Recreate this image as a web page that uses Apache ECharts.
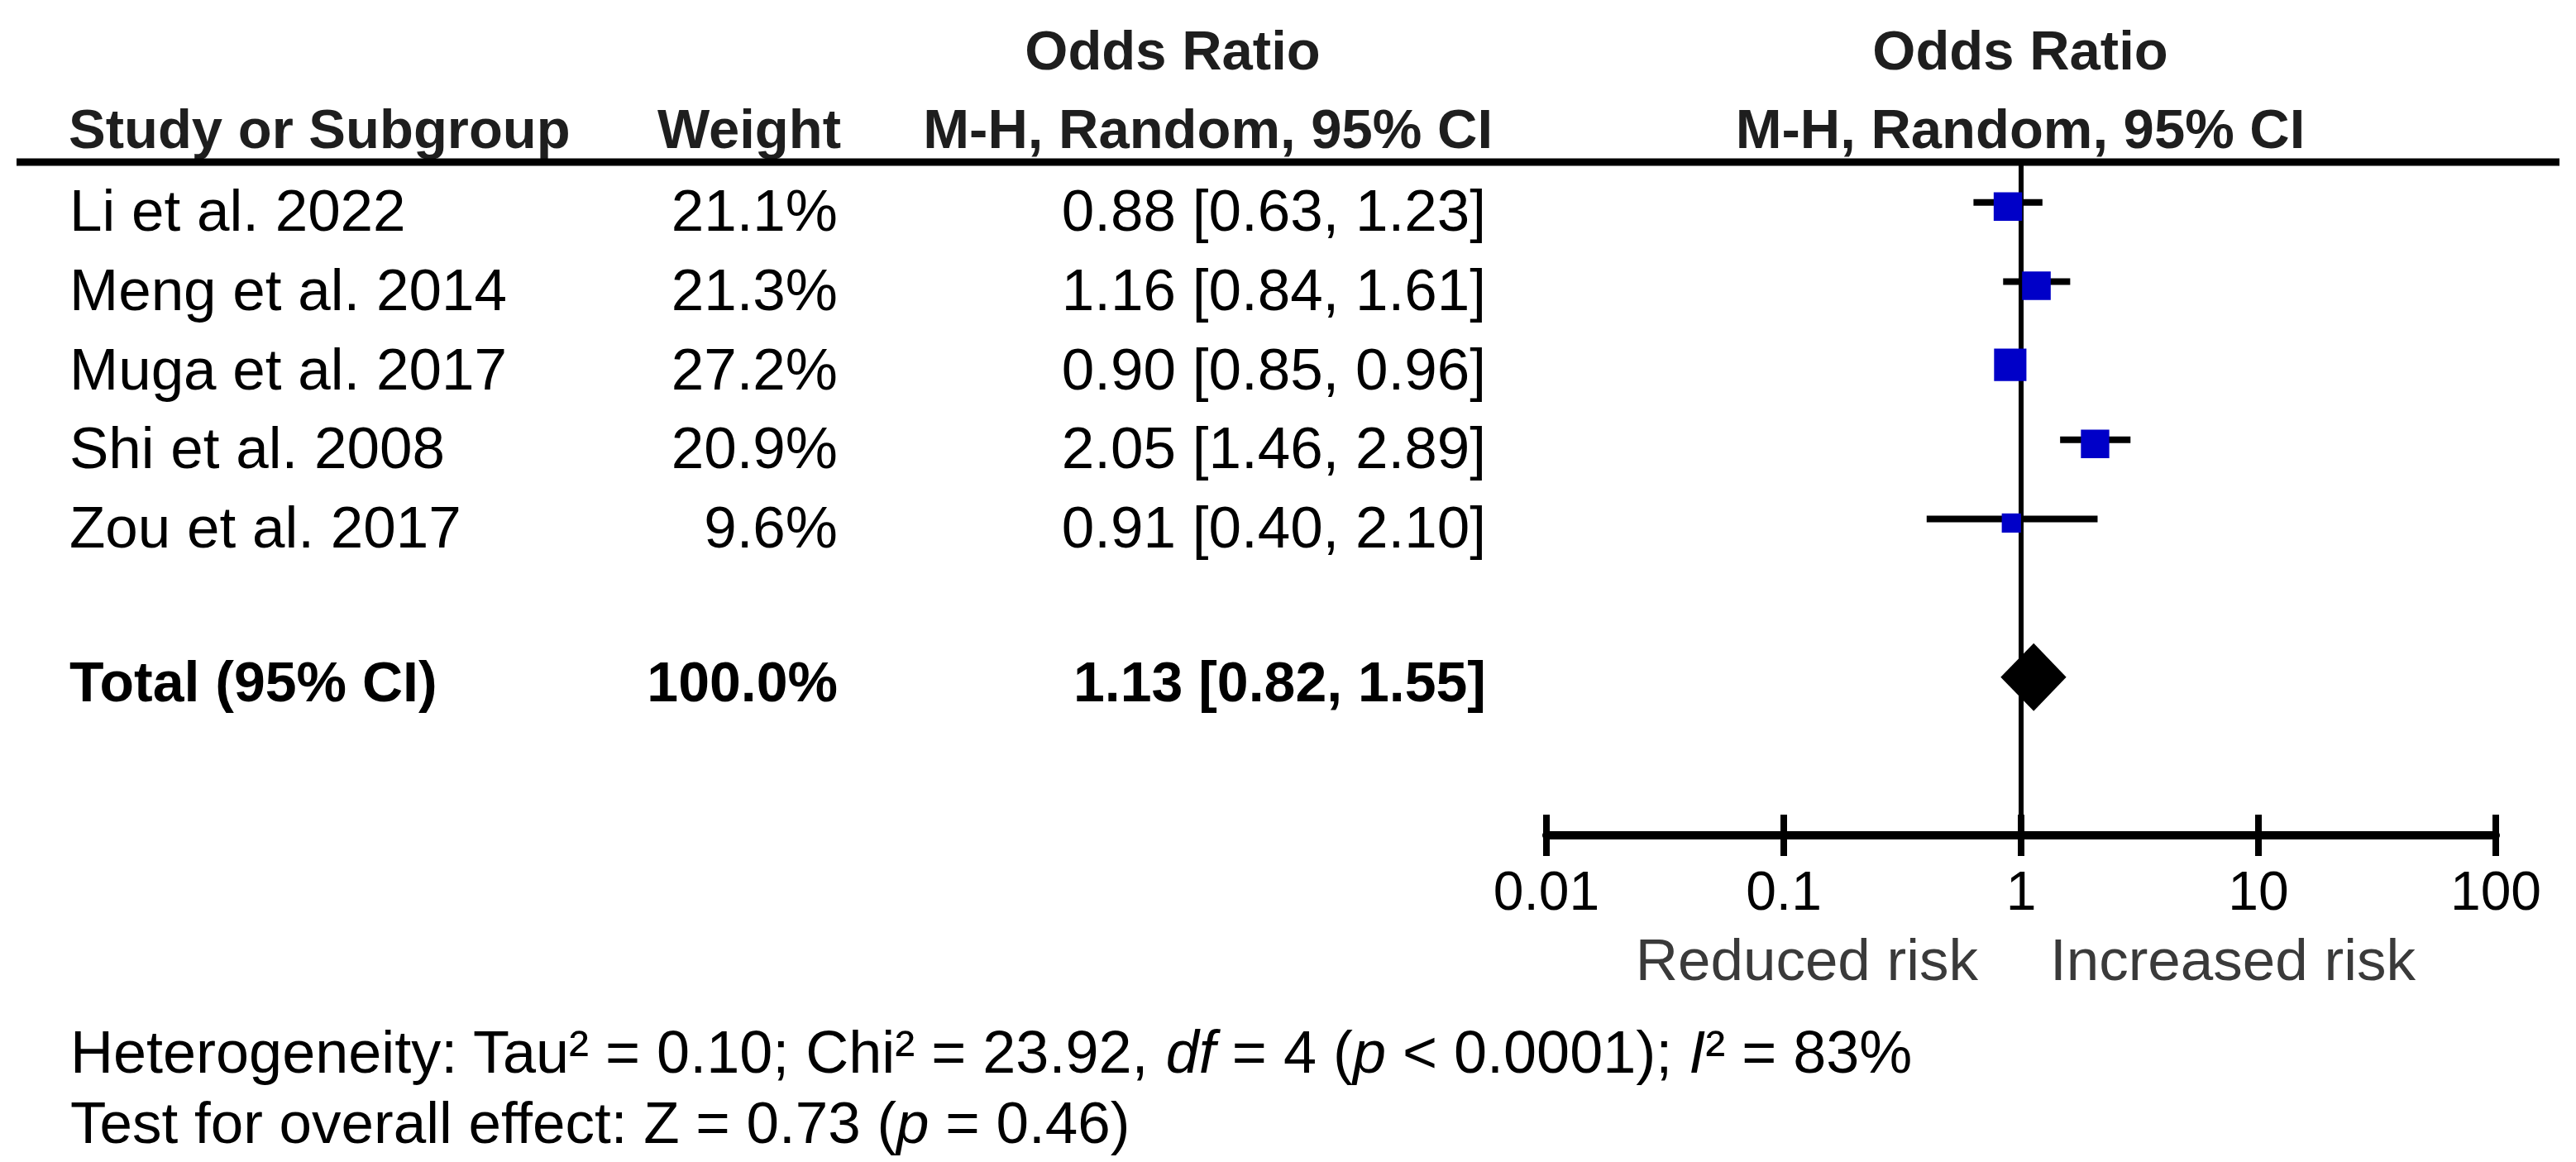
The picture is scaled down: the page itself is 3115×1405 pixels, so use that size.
<!DOCTYPE html>
<html>
<head>
<meta charset="utf-8">
<script src="https://cdn.jsdelivr.net/npm/echarts@6/dist/echarts.min.js"></script>
<style>
html, body { margin: 0; padding: 0; background: #ffffff; }
#chart { width: 3115px; height: 1405px; }
</style>
</head>
<body>
<div id="chart"></div>
<script>
// ---------------- data ----------------
const studies = ['Li et al. 2022', 'Meng et al. 2014', 'Muga et al. 2017', 'Shi et al. 2008', 'Zou et al. 2017'];
const weights = [21.1, 21.3, 27.2, 20.9, 9.6];
const oddsRatios = [0.88, 1.16, 0.90, 2.05, 0.91];
const ciLower = [0.63, 0.84, 0.85, 1.46, 0.40];
const ciUpper = [1.23, 1.61, 0.96, 2.89, 2.10];
const totalLabel = 'Total (95% CI)';
const totalWeight = 100.0;
const totalOR = 1.13;
const totalLower = 0.82;
const totalUpper = 1.55;
const tickValues = [0.01, 0.1, 1, 10, 100];
const tickLabels = ['0.01', '0.1', '1', '10', '100'];
const sideLabels = ['Reduced risk', 'Increased risk'];
const heteroStats = { tau2: '0.10', chi2: '23.92', df: '4', p: '< 0.0001', i2: '83%' };
const overallStats = { z: '0.73', p: '0.46' };

// ---------------- layout ----------------
const FONT = '"Liberation Sans", Arial, sans-serif';
const BODY = 71;
const HEAD = 67;
const TOTAL_ROW = 6;       // blank row between studies and total
const TEXT_DY = 10;        // text sits slightly below the marks
const TOTAL_DY = 5;

const chart = echarts.init(document.getElementById('chart'), null, { renderer: 'svg' });

const ciData = studies.map((s, i) => [ciLower[i], ciUpper[i], i]);
const pointData = studies.map((s, i) => [oddsRatios[i], i, weights[i]]);

function fmtTick(v) {
  let best = 0;
  tickValues.forEach((t, i) => { if (Math.abs(Math.log10(t) - Math.log10(v)) < Math.abs(Math.log10(tickValues[best]) - Math.log10(v))) best = i; });
  return tickLabels[best];
}

const baseX = {
  type: 'log', logBase: 10, min: tickValues[0], max: tickValues[tickValues.length - 1],
  gridIndex: 0, position: 'bottom', offset: 0, splitLine: { show: false }
};

chart.setOption({
  animation: false,
  backgroundColor: '#ffffff',
  grid: { left: 1870, right: 97, top: 197, bottom: 395, containLabel: false },
  xAxis: [
    Object.assign({}, baseX, {
      axisLine: { show: true, onZero: false, lineStyle: { color: '#000', width: 10 } },
      axisTick: { show: true, inside: false, length: 25, lineStyle: { color: '#000', width: 8 } },
      axisLabel: { show: true, margin: 34, fontSize: 66, color: '#000', fontFamily: FONT, formatter: fmtTick },
      minorTick: { show: false }
    }),
    Object.assign({}, baseX, {
      axisLine: { show: false, onZero: false },
      axisTick: { show: true, inside: true, length: 25, lineStyle: { color: '#000', width: 8 } },
      axisLabel: { show: false }
    })
  ],
  yAxis: { type: 'value', min: -0.5, max: 8, inverse: true, show: false },
  series: [
    {
      type: 'custom', name: 'ci', z: 2,
      data: ciData,
      encode: { x: [0, 1], y: 2 },
      renderItem: function (params, api) {
        const p1 = api.coord([api.value(0), api.value(2)]);
        const p2 = api.coord([api.value(1), api.value(2)]);
        return { type: 'line', shape: { x1: p1[0], y1: p1[1], x2: p2[0], y2: p2[1] }, style: { stroke: '#000', lineWidth: 8 } };
      },
      markLine: {
        silent: true, symbol: ['none', 'none'], label: { show: false },
        lineStyle: { color: '#000', width: 6, type: 'solid' },
        data: [{ xAxis: 1 }], z: 1
      }
    },
    {
      type: 'scatter', name: 'or', z: 4,
      data: pointData,
      symbol: 'rect',
      symbolSize: function (d) { return 7.5 * Math.sqrt(d[2]); },
      symbolOffset: [0, 5],
      itemStyle: { color: '#0000c8', opacity: 1 }
    },
    {
      type: 'custom', name: 'total', z: 4,
      data: [[totalOR, totalLower, totalUpper, TOTAL_ROW]],
      encode: { x: [0, 1, 2], y: 3 },
      renderItem: function (params, api) {
        const c = api.coord([api.value(0), api.value(3)]);
        const l = api.coord([api.value(1), api.value(3)]);
        const r = api.coord([api.value(2), api.value(3)]);
        const h = 41;
        return { type: 'polygon', shape: { points: [[l[0], c[1]], [c[0], c[1] - h], [r[0], c[1]], [c[0], c[1] + h]] }, style: { fill: '#000' } };
      }
    }
  ]
});

// ---------------- table text ----------------
function yOf(row) { return chart.convertToPixel({ yAxisIndex: 0 }, row); }
function txt(text, x, y, opt) {
  opt = opt || {};
  return {
    type: 'text', x: x, y: y, silent: true,
    style: Object.assign({
      text: text, fill: opt.fill || '#000',
      fontSize: opt.size || BODY, fontFamily: FONT, fontWeight: opt.bold ? 'bold' : 'normal',
      textAlign: opt.align || 'left', align: opt.align || 'left',
      textVerticalAlign: 'middle', verticalAlign: 'middle'
    }, opt.extra || {})
  };
}

const g = [];
const headCol = '#1e1e1e';
g.push(txt('Odds Ratio', 1418, 60, { bold: true, size: HEAD, align: 'center', fill: headCol }));
g.push(txt('Odds Ratio', 2443, 60, { bold: true, size: HEAD, align: 'center', fill: headCol }));
g.push(txt('Study or Subgroup', 83, 155, { bold: true, size: HEAD, fill: headCol }));
g.push(txt('Weight', 1017, 155, { bold: true, size: HEAD, align: 'right', fill: headCol }));
g.push(txt('M-H, Random, 95% CI', 1805, 155, { bold: true, size: HEAD, align: 'right', fill: headCol }));
g.push(txt('M-H, Random, 95% CI', 2443, 155, { bold: true, size: HEAD, align: 'center', fill: headCol }));

const lineY = yOf(-0.5) - 1;
g.push({ type: 'line', silent: true, shape: { x1: 20, y1: lineY, x2: 3095, y2: lineY }, style: { stroke: '#000', lineWidth: 9 } });

studies.forEach((s, i) => {
  const y = yOf(i) + TEXT_DY;
  g.push(txt(s, 84, y));
  g.push(txt(weights[i].toFixed(1) + '%', 1013, y, { align: 'right' }));
  g.push(txt(oddsRatios[i].toFixed(2) + ' [' + ciLower[i].toFixed(2) + ', ' + ciUpper[i].toFixed(2) + ']', 1797, y, { align: 'right' }));
});
const ty = yOf(TOTAL_ROW) + TOTAL_DY;
g.push(txt(totalLabel, 84, ty, { bold: true, size: HEAD + 1 }));
g.push(txt(totalWeight.toFixed(1) + '%', 1013, ty, { bold: true, size: HEAD + 1, align: 'right' }));
g.push(txt(totalOR.toFixed(2) + ' [' + totalLower.toFixed(2) + ', ' + totalUpper.toFixed(2) + ']', 1797, ty, { bold: true, size: HEAD + 1, align: 'right' }));

g.push(txt(sideLabels[0], 2392, 1160, { align: 'right', fill: '#3a3a3a' }));
g.push(txt(sideLabels[1], 2479, 1160, { align: 'left', fill: '#3a3a3a' }));

const italic = { fontStyle: 'italic', fontSize: 72, fontFamily: FONT, fill: '#000' };
g.push(txt('Heterogeneity: Tau\u00B2 = ' + heteroStats.tau2 + '; Chi\u00B2 = ' + heteroStats.chi2 + ', {i|df} = ' + heteroStats.df +
  ' ({i|p} ' + heteroStats.p + '); {i|I}\u00B2 = ' + heteroStats.i2, 85, 1272, { size: 72, extra: { rich: { i: italic } } }));
g.push(txt('Test for overall effect: Z = ' + overallStats.z + ' ({i|p} = ' + overallStats.p + ')', 85, 1357, { extra: { rich: { i: Object.assign({}, italic, { fontSize: BODY }) } } }));

chart.setOption({ graphic: { elements: g } });
</script>
</body>
</html>
